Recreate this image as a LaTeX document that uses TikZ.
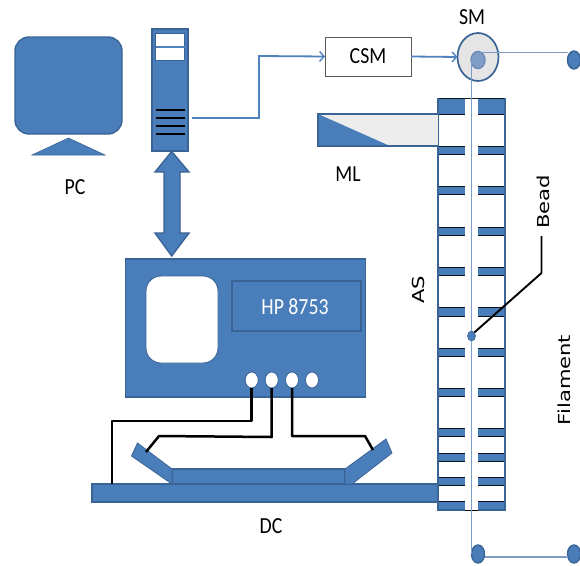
\documentclass[tikz,border=0pt]{standalone}
\usepackage{fontspec}
\setmainfont{Carlito}
\newfontfamily\dejavu{DejaVu Sans}
\usetikzlibrary{shapes.geometric,arrows.meta,calc}
\definecolor{bfill}{HTML}{4A7EBB}
\definecolor{bline}{HTML}{3A6496}
\definecolor{wire}{HTML}{4F81BD}
\definecolor{thin}{HTML}{7F9CC6}
\tikzset{
  part/.style={fill=bfill,draw=bline,line width=1.4pt},
  boxnode/.style={rectangle,inner sep=0pt,outer sep=0pt},
  dot/.style={ellipse,inner sep=0pt,outer sep=0pt,part},
  portdot/.style={ellipse,inner sep=0pt,outer sep=0pt,fill=white,draw=bline,line width=.8pt,minimum width=13pt,minimum height=16pt},
  blackwire/.style={draw=black,line width=2.5pt,line join=round},
  bluewire/.style={draw=wire,line width=1.8pt,-{Straight Barb[length=4.5pt,width=10pt,line width=1.4pt]}},
  thinline/.style={draw=thin,line width=.9pt},
  lab/.style={inner sep=0pt,font=\fontsize{23}{23}\selectfont,xscale=.86,transform shape},
  dlab/.style={inner sep=0pt,font=\dejavu\fontsize{16.5}{17}\selectfont,rotate=90,xscale=1.28,transform shape},
}
\newcommand{\asbar}[2]{%
  \fill[bfill] (438,#1) rectangle (465,#2);
  \fill[bfill] (478,#1) rectangle (505,#2);
  \draw[black!80!bline,line width=1pt] (438,#1) -- (465,#1) (438,#2) -- (465,#2) (478,#1) -- (505,#1) (478,#2) -- (505,#2);
}
\begin{document}
\begin{tikzpicture}[x=1pt,y=-1pt]
\clip (0,0) rectangle (580,565);
\fill[white] (0,0) rectangle (580,565);
% PC monitor
\node[boxnode,part,rounded corners=14pt,minimum width=107pt,minimum height=97pt] (monitor) at (68.5,85.5) {};
\draw[fill=bfill,draw=bline,line width=.6pt] (32,155) -- (68.5,138) -- (105,155) -- cycle;
\node[lab] (pc) at (75,187) {PC};
% tower
\node[boxnode,part,minimum width=36pt,minimum height=122pt] (tower) at (170,90) {};
\node[boxnode,fill=white,draw=bline,line width=1.4pt,minimum width=29pt,minimum height=27pt] (drives) at (170.2,47) {};
\draw[wire,line width=1.4pt] (drives.west) -- (drives.east);
\foreach \yy in {110,118,126,134} \draw[black,line width=2.1pt] (156,\yy) -- (185,\yy);
% bidirectional arrow
\draw[part] (171.7,151.5) -- (189,172) -- (180,172) -- (180,233) -- (189,233) -- (171.7,256) -- (155,233) -- (164,233) -- (164,172) -- (155,172) -- cycle;
% analyser
\node[boxnode,part,minimum width=240pt,minimum height=138pt] (hp) at (245.3,328) {};
\node[boxnode,fill=white,draw=bline,line width=.9pt,rounded corners=15pt,minimum width=72pt,minimum height=87pt] (screen) at (182,319.5) {};
\node[boxnode,part,minimum width=129pt,minimum height=50pt] (display) at (296.5,306) {};
\node[lab,text=white] (hpl) at (295,307) {HP 8753};
\node[portdot] (p1) at (251.7,380) {};
\node[portdot] (p2) at (271.7,380) {};
\node[portdot] (p3) at (292,380) {};
\node[portdot] (p4) at (312,380) {};
% cavity base
\node[boxnode,part,minimum width=346pt,minimum height=18pt] (base) at (265,493) {};
\node[boxnode,part,minimum width=173pt,minimum height=15pt] (block) at (258.5,476.5) {};
\draw[part,line width=.8pt] (137.5,443) -- (131.5,456) -- (172,484) -- (172,469) -- cycle;
\draw[part,line width=.8pt] (345,469) -- (386,439) -- (392,453) -- (352,484) -- (345,484) -- cycle;
\coordinate (lclamp) at (146,452);
\coordinate (rclamp) at (373,450);
\draw[blackwire] (p1.south) -- (251.7,421) -- (112,421) -- (112,484);
\draw[blackwire] (p2.south) -- (271.7,437) -- (159,436) -- (lclamp);
\draw[blackwire] (p3.south) -- (292,436) -- (365,436) -- (rclamp);
\node[lab] (dc) at (271,526) {DC};
% CSM + SM
\node[boxnode,draw=black!65,fill=white,line width=.9pt,minimum width=86pt,minimum height=39pt] (csm) at (368,56.5) {};
\node[lab] (csml) at (368,56) {CSM};
\node[ellipse,inner sep=0pt,outer sep=0pt,fill=black!10,draw=bline,line width=1.7pt,minimum width=41pt,minimum height=48pt] (sm) at (478,57) {};
\node[lab] (sml) at (472,17) {SM};
\coordinate (towerout) at (192,118);
\draw[bluewire] (towerout) -- (259,118) -- (259,56) -- (csm.west);
\draw[bluewire] (csm.east) -- (sm.west);
% assembled structure
\fill[white] (465,97.5) rectangle (478,510);
\draw[thin,line width=1pt] (465,510) -- (478,510);
\draw[black!70!bline,line width=1pt] (438,98) -- (505,98);
\foreach \a/\b in {98/114,146/154,186/194,227/235,267/275,307/316,348/356,388/396,428/436,453/461,477/485,501/510} {\asbar{\a}{\b}}
\draw[bline,line width=1.2pt] (438,98) -- (438,510) -- (465,510) (478,510) -- (505,510) -- (505,98);
% modulated laser
\fill[black!7] (318,114) rectangle (438,146);
\fill[bfill] (318,114) -- (318,146) -- (390,146) -- cycle;
\draw[bline,line width=1.1pt] (438,114) -- (318,114) -- (318,146) -- (438,146);
\node[lab] (ml) at (348,174) {ML};
% filament and bead
\node[dot,minimum width=14pt,minimum height=17pt,fill=thin,draw=thin!70!bline] (smcore) at (478,60) {};
\node[dot,minimum width=13pt,minimum height=18pt] (topdot) at (574,60) {};
\node[dot,minimum width=13pt,minimum height=18pt] (botl) at (478,554) {};
\node[dot,minimum width=13pt,minimum height=18pt] (botr) at (574,554) {};
\node[dot,minimum width=8pt,minimum height=10pt,line width=.6pt] (bead) at (471.5,336) {};
\coordinate (smtop) at (471.5,60);
\coordinate (smline) at (480,52);
\draw[thinline] (smline) -- (568,52);
\draw[thinline] (smtop) -- (bead.north);
\draw[thinline] (bead.south) -- (471.5,553);
\draw[thinline] (471.5,553) -- (botl.west);
\draw[draw=thin,line width=1.5pt] (botl.east |- 0,557) -- (botr.west |- 0,557);
\node[dlab] (beadl) at (543.5,202) {Bead};
\node[dlab] (fil) at (564,380) {Filament};
\node[dlab] (asl) at (418,290) {AS};
\coordinate (beadtop) at (541.5,236);
\draw[black,line width=1.9pt,line join=round] (beadtop) -- (541.5,273) -- (bead.north east);
\end{tikzpicture}
\end{document}
